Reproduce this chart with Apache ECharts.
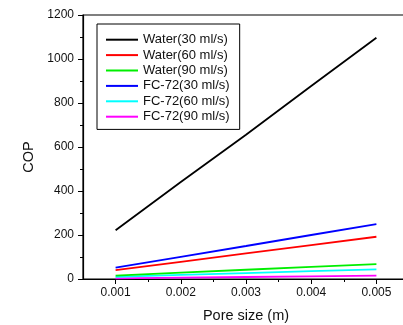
<!DOCTYPE html>
<html>
<head>
<meta charset="utf-8">
<script src="https://cdn.jsdelivr.net/npm/echarts@6/dist/echarts.min.js"></script>
<style>
html,body{margin:0;padding:0;background:#fff;}
#c{width:403px;height:325px;}
</style>
</head>
<body>
<div id="c"></div>
<script>
const poreSizes = [0.001, 0.002, 0.003, 0.004, 0.005];
const seriesNames = ['Water(30 ml/s)', 'Water(60 ml/s)', 'Water(90 ml/s)', 'FC-72(30 ml/s)', 'FC-72(60 ml/s)', 'FC-72(90 ml/s)'];
const water30 = [222, 441, 656, 877, 1097];
const water60 = [40, 78, 116, 154, 192];
const water90 = [15, 29, 42, 55, 68];
const fc30 = [52, 101, 150, 200, 249];
const fc60 = [10, 19, 27, 36, 44];
const fc90 = [3, 6, 9, 12, 15];
const xMajorTicks = [0.001, 0.002, 0.003, 0.004, 0.005];
const xMinorTicks = [0.0015, 0.0025, 0.0035, 0.0045];
const colors = ['#000000', '#ff0000', '#00ee00', '#0000ff', '#00ffff', '#ff00ff'];

const allValues = [water30, water60, water90, fc30, fc60, fc90];
const FONT = 'Liberation Sans, Arial, sans-serif';

const chart = echarts.init(document.getElementById('c'), null, {renderer: 'canvas'});
chart.setOption({
  animation: false,
  backgroundColor: '#fff',
  color: colors,
  grid: {
    left: 83, top: 15, right: -6, bottom: 46,
    containLabel: false,
    outerBoundsMode: 'none',
    show: true, borderColor: '#000', borderWidth: 1.2, backgroundColor: 'transparent'
  },
  legend: {
    orient: 'vertical',
    left: 97, top: 24,
    data: seriesNames,
    icon: 'rect',
    itemWidth: 32, itemHeight: 2,
    itemGap: 0,
    padding: [8, 10, 5, 9],
    borderColor: '#000', borderWidth: 1,
    textStyle: {fontFamily: FONT, fontSize: 13, color: '#111', lineHeight: 15.4, padding: [0, 0, 0, 0]},
    formatter: n => n
  },
  xAxis: [{
    type: 'value',
    min: 0.0005, max: 0.0055, interval: 0.0005,
    name: 'Pore size (m)', nameLocation: 'middle', nameGap: 29,
    nameTextStyle: {fontFamily: FONT, fontSize: 14.5, color: '#111'},
    axisLine: {show: true, onZero: false, lineStyle: {color: '#000', width: 1.2}},
    axisTick: {show: true, inside: false, length: 5, customValues: xMajorTicks, lineStyle: {color: '#000', width: 1}},
    axisLabel: {customValues: xMajorTicks, margin: 8, fontFamily: FONT, fontSize: 12, color: '#111',
      formatter: v => v.toFixed(3)},
    splitLine: {show: false}
  }, {
    type: 'value',
    position: 'top', offset: -264,
    min: 0.0005, max: 0.0055, interval: 0.0005,
    axisLine: {show: false},
    axisTick: {show: true, inside: true, length: 3, customValues: xMinorTicks, lineStyle: {color: '#000', width: 1}},
    axisLabel: {show: false},
    splitLine: {show: false}
  }],
  yAxis: {
    type: 'value',
    min: 0, max: 1200, interval: 200,
    name: 'COP', nameLocation: 'middle', nameGap: 42, nameRotate: 90,
    nameTextStyle: {fontFamily: FONT, fontSize: 14.5, color: '#111', padding: [0, 20, 0, 0]},
    axisLine: {show: true, onZero: false, lineStyle: {color: '#000', width: 1.2}},
    axisTick: {show: true, inside: false, length: 5, lineStyle: {color: '#000', width: 1}},
    minorTick: {show: true, splitNumber: 2, length: 3, lineStyle: {color: '#000', width: 1}},
    axisLabel: {margin: 9, fontFamily: FONT, fontSize: 12, color: '#111', formatter: v => String(v)},
    splitLine: {show: false},
    minorSplitLine: {show: false}
  },
  series: allValues.map((vals, i) => ({
    name: seriesNames[i],
    type: 'line',
    xAxisIndex: 0,
    data: poreSizes.map((x, j) => [x, vals[j]]),
    showSymbol: false,
    symbol: 'none',
    lineStyle: {width: 1.8, color: colors[i]},
    itemStyle: {color: colors[i]},
    z: 10 - i
  }))
});
</script>
</body>
</html>
